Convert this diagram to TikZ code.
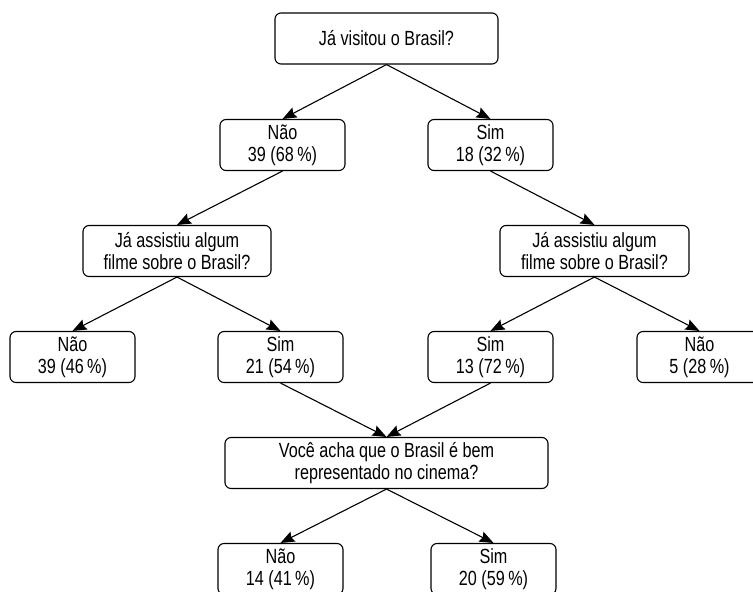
\documentclass[tikz,border=0pt]{standalone}
\usepackage{fontspec}
\setmainfont{Liberation Sans}[FakeStretch=0.79]
\usepackage{tikz}
\usetikzlibrary{arrows.meta}

\begin{document}
\begin{tikzpicture}[x=1pt, y=-1pt,
	answer/.style={draw, line width=1.1pt, rounded corners=6pt, align=center,
		minimum width=125pt, minimum height=51pt, inner sep=2pt,
		font=\fontsize{20.5}{22}\selectfont},
	question/.style={answer},
	link/.style={draw, line width=1.1pt, -{Stealth[length=14pt, width=11pt, inset=2pt]}}]
	\useasboundingbox (0,0) rectangle (753,592);

	\node[question, minimum width=223pt] at (386.5,38.5) (visitou) {Já visitou o Brasil?};
	\node[answer] at (282.5,145) (naoA) {Não\\39 (68\,\%)};
	\node[answer] at (490.5,145) (simA) {Sim\\18 (32\,\%)};
	\node[question, minimum width=188pt] at (177,251) (filmeL) {Já assistiu algum\\filme sobre o Brasil?};
	\node[question, minimum width=189pt] at (594.5,251) (filmeR) {Já assistiu algum\\filme sobre o Brasil?};
	\node[answer] at (72.5,357) (naoB) {Não\\39 (46\,\%)};
	\node[answer] at (280.5,357) (simB) {Sim\\21 (54\,\%)};
	\node[answer] at (490.5,357) (simC) {Sim\\13 (72\,\%)};
	\node[answer] at (699.5,357) (naoC) {Não\\5 (28\,\%)};
	\node[question, minimum width=323pt] at (386.5,463) (cinema) {Você acha que o Brasil é bem\\representado no cinema?};
	\node[answer] at (280.5,569) (naoD) {Não\\14 (41\,\%)};
	\node[answer] at (493.5,569) (simD) {Sim\\20 (59\,\%)};

	\path (visitou.south) edge[link] (naoA.north);
	\path (visitou.south) edge[link] (simA.north);
	\path (naoA.south) edge[link] (filmeL.north);
	\path (simA.south) edge[link] (filmeR.north);
	\path (filmeL.south) edge[link] (naoB.north);
	\path (filmeL.south) edge[link] (simB.north);
	\path (filmeR.south) edge[link] (simC.north);
	\path (filmeR.south) edge[link] (naoC.north);
	\path (simB.south) edge[link] (cinema.north);
	\path (simC.south) edge[link] (cinema.north);
	\path (cinema.south) edge[link] (naoD.north);
	\path (cinema.south) edge[link] (simD.north);
\end{tikzpicture}
\end{document}
